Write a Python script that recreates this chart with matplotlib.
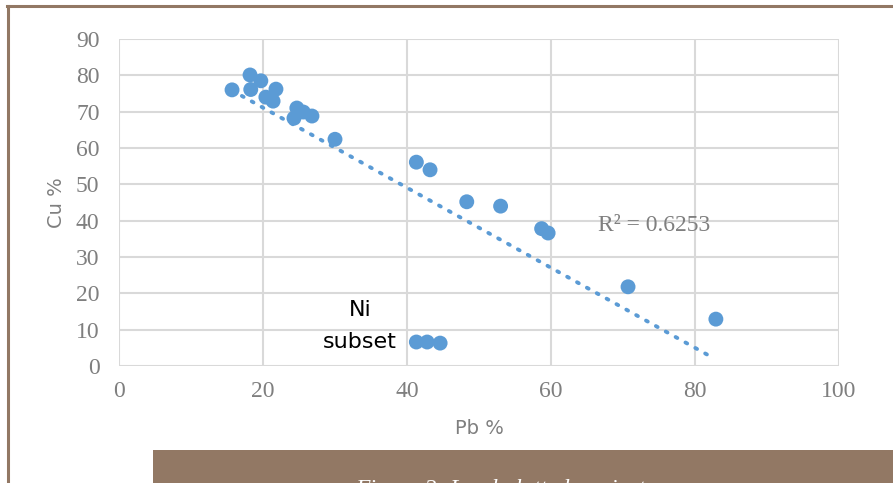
#!/usr/bin/env python3

import numpy as np
import matplotlib
matplotlib.use("Agg")
import matplotlib.pyplot as plt
from matplotlib.patches import Rectangle
from matplotlib.lines import Line2D


##### data #####
pb_main = [15.7, 18.2, 19.7, 18.3, 21.8, 20.4, 21.4, 24.7, 25.6, 24.3, 26.8,
           30.0, 41.3, 43.2, 48.3, 53.0, 58.7, 59.6, 70.7, 82.9]
cu_main = [76.0, 80.1, 78.5, 76.1, 76.2, 74.0, 72.9, 71.0, 69.9, 68.2, 68.8,
           62.4, 56.1, 54.0, 45.2, 44.0, 37.8, 36.6, 21.8, 12.9]

pb_ni = [41.3, 42.8, 44.6]
cu_ni = [6.6, 6.6, 6.3]

x_ticks = [0, 20, 40, 60, 80, 100]
y_ticks = [0, 10, 20, 30, 40, 50, 60, 70, 80, 90]

r2_label = "R\u00b2 = 0.6253"
ni_label = "Ni\nsubset"
caption = "Figure 2: Lead plotted against copper"

BLUE = "#5b9bd5"
GRID = "#d9d9d9"
TICK = "#7f7f7f"
BROWN = "#927864"


##### figure #####
W, H = 893, 483
fig = plt.figure(figsize=(W / 100, H / 100), dpi=100)

# brown frame lines (top and left) + caption band, caption cut at the bottom
fig.add_artist(Line2D([7 / W, 1], [1 - 6 / H, 1 - 6 / H], color=BROWN, lw=2.2))
fig.add_artist(Line2D([8 / W, 8 / W], [0, 1 - 6 / H], color=BROWN, lw=2.2))
fig.add_artist(Rectangle((153 / W, 0), 1, 33 / H, transform=fig.transFigure,
                         facecolor=BROWN, edgecolor="none"))
fig.text(355 / W, -17 / H, caption, color="white", fontsize=17,
         family="Liberation Serif", style="italic", ha="left", va="bottom")

ax = fig.add_axes([119 / W, 117 / H, 720 / W, 327 / H])

ax.set_xlim(0, 100)
ax.set_ylim(0, 90)
ax.set_xticks(x_ticks)
ax.set_yticks(y_ticks)

for s in ax.spines.values():
    s.set_visible(False)
ax.grid(True, color=GRID, linewidth=1.5)
ax.set_axisbelow(True)
ax.tick_params(length=0, labelsize=17, labelcolor=TICK)
for lab in ax.get_xticklabels() + ax.get_yticklabels():
    lab.set_family("Liberation Serif")
ax.tick_params(axis="y", pad=14)
ax.tick_params(axis="x", pad=11)

ax.set_xlabel("Pb %", fontsize=14, color=TICK, labelpad=12)
ax.set_ylabel("Cu %", fontsize=14, color=TICK, labelpad=7)

##### points #####
pb_all = np.array(pb_main + pb_ni)
cu_all = np.array(cu_main + cu_ni)

ax.scatter(pb_all, cu_all, s=115, color=BLUE, edgecolors="none", zorder=3,
           clip_on=False)

##### linear trendline over all points #####
slope, icpt = np.polyfit(pb_all, cu_all, 1)
xt = np.array([pb_all.min(), pb_all.max() - 0.7])
ax.plot(xt, slope * xt + icpt, color=BLUE, linewidth=2.8,
        linestyle=(0, (0.5, 2.4)), dash_capstyle="round", zorder=2)

ax.text(74.3, 38.6, r2_label, fontsize=17, color=TICK,
        family="Liberation Serif", ha="center", va="center")
ax.text(33.5, 11.0, ni_label, fontsize=16, color="black",
        ha="center", va="center", linespacing=1.75)

fig.savefig("out.png", dpi=100)
